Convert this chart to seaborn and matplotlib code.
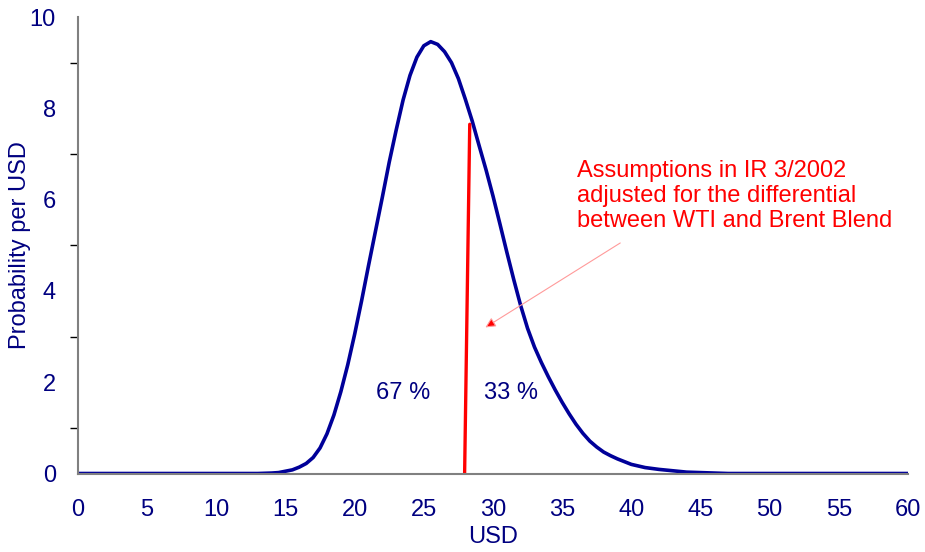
import matplotlib
matplotlib.use("Agg")
import matplotlib.pyplot as plt
import seaborn as sns
import pandas as pd
from matplotlib.ticker import MultipleLocator

# ---- data ----
usd = [0, 5, 10, 13, 14, 14.5, 15, 15.5, 16, 16.5, 17, 17.5, 18, 18.5, 19, 19.5,
       20, 20.5, 21, 21.5, 22, 22.5, 23, 23.5, 24, 24.5, 25, 25.5, 26, 26.5,
       27, 27.5, 28, 28.5, 29, 29.5, 30, 30.5, 31, 31.5, 32, 32.5, 33, 33.5,
       34, 34.5, 35, 35.5, 36, 36.5, 37, 37.5, 38, 38.5, 39, 39.5, 40, 41, 42,
       43, 44, 45, 46, 47, 50, 55, 60]
prob = [0, 0, 0, 0, 0.01, 0.02, 0.05, 0.08, 0.14, 0.22, 0.35, 0.56, 0.87, 1.28,
        1.79, 2.38, 3.05, 3.78, 4.55, 5.3, 6.05, 6.82, 7.52, 8.18, 8.72, 9.12,
        9.37, 9.46, 9.40, 9.24, 9.0, 8.65, 8.2, 7.72, 7.18, 6.65, 6.08, 5.47,
        4.85, 4.25, 3.68, 3.18, 2.77, 2.43, 2.12, 1.83, 1.56, 1.31, 1.08, 0.88,
        0.71, 0.58, 0.47, 0.39, 0.32, 0.26, 0.2, 0.13, 0.09, 0.06, 0.03, 0.02,
        0.01, 0, 0, 0, 0]

split_x = [27.95, 28.32]
split_y = [0, 7.65]

share_labels = ["67 %", "33 %"]
share_x = [23.5, 31.3]
share_y = [1.76, 1.76]

note_text = "Assumptions in IR 3/2002\nadjusted for the differential\nbetween WTI and Brent Blend"
x_ticks = [0, 5, 10, 15, 20, 25, 30, 35, 40, 45, 50, 55, 60]
y_ticks = [0, 2, 4, 6, 8, 10]

# ---- style ----
sns.set_style("white")
plt.rcParams["font.family"] = ["Liberation Sans", "DejaVu Sans"]
NAVY = "#000080"
CURVE = "#000099"
GREY = "#808080"
FS = 17

fig = plt.figure(figsize=(9.25, 5.52), dpi=100)
ax = fig.add_axes([0.0843, 0.1422, 0.8973, 0.8270])

df = pd.DataFrame({"USD": usd, "prob": prob})
sns.lineplot(data=df, x="USD", y="prob", ax=ax, color=CURVE, lw=2.6, sort=False,
             solid_joinstyle="round", solid_capstyle="round")

split_df = pd.DataFrame({"x": split_x, "y": split_y})
sns.lineplot(data=split_df, x="x", y="y", ax=ax, color="#ff0000", lw=2.4, sort=False)

for lab, xx, yy in zip(share_labels, share_x, share_y):
    ax.text(xx, yy, lab, color=NAVY, fontsize=FS, ha="center", va="center")

ax.text(36.1, 6.08, note_text, color="#ff0000", fontsize=FS, ha="left",
        va="center", linespacing=1.2)
ax.annotate("", xy=(29.45, 3.2), xytext=(39.2, 5.05),
            arrowprops=dict(arrowstyle="-|>", edgecolor="#ff9a9a", facecolor="#ff0000",
                            lw=0.8, mutation_scale=15, shrinkA=0, shrinkB=0))

ax.set_xlim(0, 60)
ax.set_ylim(0, 10)
ax.set_xticks(x_ticks)
ax.set_xticklabels([str(t) for t in x_ticks])
ax.set_yticks(y_ticks)
ax.set_yticklabels([str(t) for t in y_ticks])
ax.yaxis.set_minor_locator(MultipleLocator(1))

for side in ["top", "right"]:
    ax.spines[side].set_visible(False)
for side in ["left", "bottom"]:
    ax.spines[side].set_color(GREY)
    ax.spines[side].set_linewidth(1.5)

ax.tick_params(axis="both", which="both", direction="out", color="#000000",
               width=1.0, labelcolor=NAVY, labelsize=FS)
ax.tick_params(axis="x", which="major", length=6, pad=12)
ax.tick_params(axis="y", which="major", length=6, pad=10)
ax.tick_params(axis="y", which="minor", length=6, left=True)

ax.set_xlabel("USD", color=NAVY, fontsize=FS, labelpad=4)
ax.set_ylabel("Probability per USD", color=NAVY, fontsize=FS)
ax.yaxis.set_label_coords(-0.056, 0.5)

fig.savefig("out.png", dpi=100)
